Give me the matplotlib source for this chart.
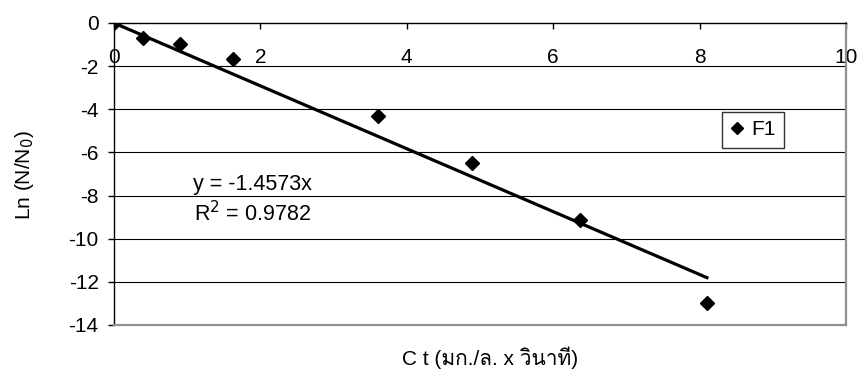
import matplotlib
matplotlib.use("Agg")
import matplotlib.pyplot as plt
from matplotlib import font_manager
from matplotlib.ft2font import FT2Font
import numpy as np

# Ct values and log survival ratios for series F1
ct = [0.0, 0.40, 0.90, 1.63, 3.61, 4.89, 6.37, 8.10]
ln_ratio = [0.0, -0.68, -0.99, -1.68, -4.31, -6.49, -9.13, -12.98]
series_name = "F1"
slope = -1.4573
r_squared = 0.9782

x_ticks = [0, 2, 4, 6, 8, 10]
y_ticks = [0, -2, -4, -6, -8, -10, -12, -14]

x_title = "C t (มก./ล. x วินาที)"
y_title = "Ln (N/N$_0$)"


def thai_fonts():
    names = []
    for f in font_manager.fontManager.ttflist:
        try:
            cmap = FT2Font(f.fname).get_charmap()
        except Exception:
            continue
        if 0x0E21 in cmap and f.name not in names:
            names.append(f.name)
    return names


thai = thai_fonts()
families = ["Liberation Sans"] + thai + ["DejaVu Sans"]
plt.rcParams["font.family"] = families

fig = plt.figure(figsize=(8.61, 3.78), dpi=100)
ax = fig.add_axes([114 / 861, 1 - 325 / 378, (846 - 114) / 861, (325 - 23) / 378])

ax.set_xlim(0, 10)
ax.set_ylim(-14, 0)

# horizontal grid
for y in y_ticks[1:-1]:
    ax.axhline(y, color="black", lw=0.8, zorder=1)

# fitted line through the origin
xs = np.array([0, max(ct)])
ax.plot(xs, slope * xs, color="black", lw=2.3, zorder=2)

ax.plot(ct, ln_ratio, linestyle="none", marker="D", markersize=7.5,
        color="black", zorder=3, label=series_name)

# axes frame: black axes at the top and left, grey edges right and bottom
ax.spines["top"].set_color("black")
ax.spines["top"].set_linewidth(1.0)
ax.spines["left"].set_color("black")
ax.spines["left"].set_linewidth(1.0)
ax.spines["right"].set_color("#909090")
ax.spines["right"].set_linewidth(1.6)
ax.spines["bottom"].set_color("#909090")
ax.spines["bottom"].set_linewidth(1.6)

ax.xaxis.set_ticks_position("top")
ax.set_xticks(x_ticks)
ax.set_xticklabels([str(v) for v in x_ticks])
ax.tick_params(axis="x", direction="in", length=4, width=1, labeltop=True,
               labelbottom=False, labelsize=15, pad=-24.5)
ax.set_yticks(y_ticks)
ax.set_yticklabels([str(v) for v in y_ticks])
ax.tick_params(axis="y", direction="out", length=4, width=1, labelsize=15, pad=7)
for lbl in ax.get_xticklabels():
    lbl.set_verticalalignment("center")

ax.text(1.89, -7.5, f"y = {slope}x", fontsize=15.5, ha="center", va="center")
ax.text(1.89, -8.85, f"R$^2$ = {r_squared}", fontsize=15.5, ha="center", va="center")

leg = ax.legend(loc="upper left", bbox_to_anchor=((722 - 114) / 732, 1 - (112 - 23) / 302),
                frameon=True, fancybox=False, fontsize=15, handlelength=0.6,
                handletextpad=0.4, borderpad=0.4, borderaxespad=0, markerscale=0.85)
leg.get_frame().set_edgecolor("black")
leg.get_frame().set_linewidth(1.0)

fig.text(490 / 861, 1 - 358 / 378, x_title, fontsize=15, ha="center", va="center")
fig.text(24 / 861, 1 - 175 / 378, y_title, fontsize=15, rotation=90,
         ha="center", va="center")

fig.savefig("out.png", dpi=100)
